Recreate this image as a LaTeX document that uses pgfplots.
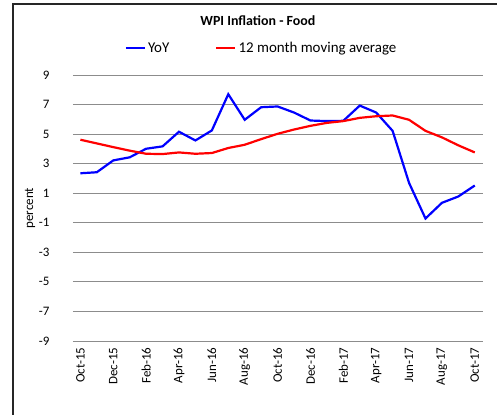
\documentclass[border=0pt]{standalone}
\usepackage{pgfplots}
\pgfplotsset{compat=1.18}
\usepackage{fontspec}
\setmainfont{Carlito}
\definecolor{gridgray}{RGB}{140,140,140}
\begin{document}
\begin{tikzpicture}
\begin{axis}[
  name=ax,
  at={(0,0)}, anchor=south west,
  scale only axis,
  width=410bp, height=266bp,
  xmin=-0.45, xmax=24.5,
  ymin=-9, ymax=9,
  ytick={-9,-7,...,9},
  xtick={0,2,...,24},
  xticklabels={Oct-15,Dec-15,Feb-16,Apr-16,Jun-16,Aug-16,Oct-16,Dec-16,Feb-17,Apr-17,Jun-17,Aug-17,Oct-17},
  axis line style={draw=none},
  major tick length=0pt,
  ymajorgrids,
  grid style={gridgray, line width=0.9bp},
  /pgf/number format/assume math mode=true,
  tick label style={font=\fontsize{13}{15}\selectfont},
  yticklabel style={anchor=east, xshift=-20bp},
  xticklabel style={yshift=-3bp, rotate=90, anchor=east},
  ylabel={percent},
  ylabel style={at={(axis description cs:-0.105,0.5)}, anchor=center, rotate=0, font=\fontsize{13}{15}\selectfont},
  legend columns=2,
  legend style={draw=none, fill=none, at={(axis description cs:0.46,1.10)}, anchor=center,
    font=\fontsize{15}{17}\selectfont, inner sep=0pt,
    /tikz/every odd column/.append style={column sep=0pt},
    /tikz/every even column/.append style={column sep=44bp}},
  legend image code/.code={\draw[#1, line width=2.2bp] (0bp,0bp) -- (19bp,0bp);},
  clip=false,
]
\addplot[blue, line width=2.2bp] coordinates {
(0,2.35) (1,2.42) (2,3.22) (3,3.43) (4,4.01) (5,4.17) (6,5.16) (7,4.57) (8,5.25)
(9,7.70) (10,5.97) (11,6.82) (12,6.87) (13,6.46) (14,5.92) (15,5.88) (16,5.90)
(17,6.93) (18,6.46) (19,5.22) (20,1.70) (21,-0.71) (22,0.35) (23,0.78) (24,1.52)
};
\addlegendentry{YoY}
\addplot[red, line width=2.2bp] coordinates {
(0,4.62) (1,4.37) (2,4.12) (3,3.88) (4,3.67) (5,3.65) (6,3.76) (7,3.67) (8,3.72)
(9,4.06) (10,4.28) (11,4.66) (12,5.02) (13,5.31) (14,5.56) (15,5.76) (16,5.88)
(17,6.10) (18,6.21) (19,6.26) (20,5.97) (21,5.22) (22,4.78) (23,4.24) (24,3.76)
};
\addlegendentry{12 month moving average}
\node[font=\bfseries\fontsize{14}{16}\selectfont] at (axis description cs:0.451,1.205) {WPI Inflation - Food};
\end{axis}
\draw[line width=1.3bp, black!85] ([shift={(-60bp,-80bp)}]ax.south west) -- ([shift={(-60bp,337bp)}]ax.south west) -- ([shift={(440bp,337bp)}]ax.south west);
\pgfresetboundingbox
\useasboundingbox ([shift={(-73bp,-74bp)}]ax.south west) rectangle ([shift={(424bp,341bp)}]ax.south west);
\end{tikzpicture}
\end{document}
